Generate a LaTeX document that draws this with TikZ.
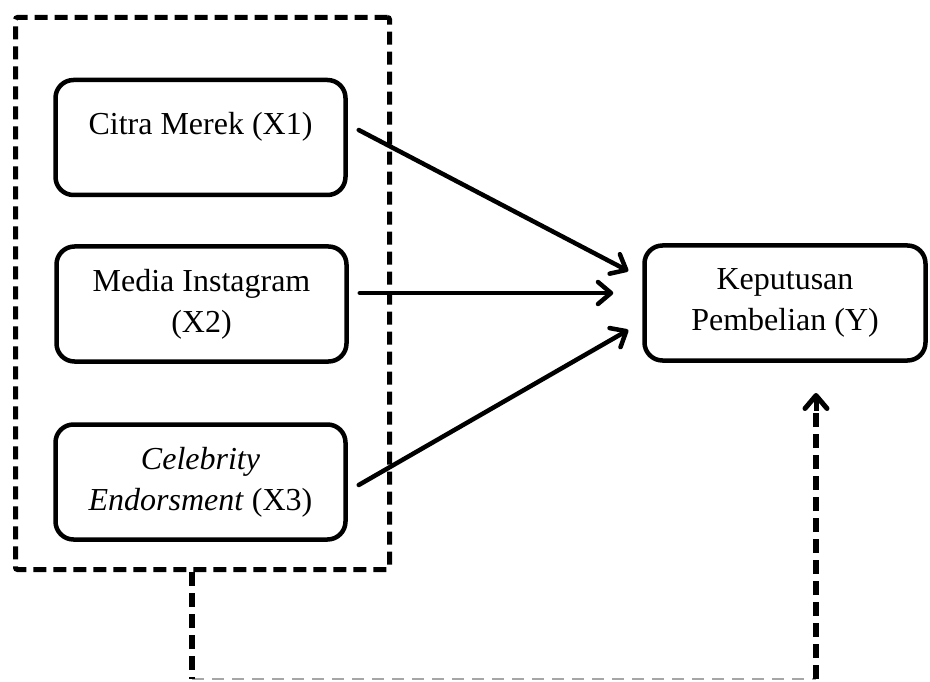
\documentclass[tikz,border=0pt]{standalone}
\usepackage{fontspec}
\setmainfont{Liberation Serif}
\usetikzlibrary{arrows.meta}
\tikzset{
  varbox/.style={draw=black, line width=4.5pt, rounded corners=18pt, fill=white,
    minimum width=290pt, minimum height=115pt, align=center, inner sep=0pt,
    font=\fontsize{32}{41}\selectfont},
  groupbox/.style={draw=black, line width=5pt, rounded corners=2pt,
    dash pattern=on 13pt off 7pt, minimum width=374pt, minimum height=552pt, inner sep=0pt},
  barb/.tip={Straight Barb[length=13pt,width=22pt,line cap=round,line join=round]},
  arr/.style={line width=4.5pt, line cap=round, -barb},
  dashblack/.style={line width=6pt, dash pattern=on 14pt off 7pt},
  dashgray/.style={line width=1.5pt, draw=black!35, dash pattern=on 12pt off 8pt},
}
\begin{document}
\begin{tikzpicture}[x=1pt,y=-1pt]
\useasboundingbox (0,0) rectangle (930,682);
\node[groupbox] (grp) at (202.5,293.5) {};
\node[varbox] (x1) at (200.5,137.5) {Citra Merek (X1)\\[-26pt]\strut};
\node[varbox] (x2) at (201.5,304) {Media Instagram\\(X2)};
\node[varbox] (x3) at (200.5,482) {\textit{Celebrity}\\\textit{Endorsment} (X3)};
\node[varbox, minimum width=281pt] (y) at (785,303) {Keputusan\\Pembelian (Y)};
\draw[arr] ([xshift=11pt,yshift=7.5pt]x1.east) -- ([xshift=-14pt,yshift=32pt]y.west);
\draw[arr] ([xshift=11pt,yshift=11pt]x2.east) -- ([xshift=-29pt,yshift=10pt]y.west);
\draw[arr] ([xshift=11pt,yshift=-3pt]x3.east) -- ([xshift=-14pt,yshift=-27pt]y.west);
\coordinate (c1) at (192,679);
\coordinate (c2) at (816,679);
\coordinate (c3) at (816,393);
\draw[dashgray] (c1) -- (c2);
\draw[dashblack] (grp.south -| c1) -- (c1);
\draw[dashblack] (c2) -- ([yshift=-16pt]c3);
\draw[line width=5pt, barb-] (c3) -- ([yshift=-18pt]c3);
\end{tikzpicture}
\end{document}
